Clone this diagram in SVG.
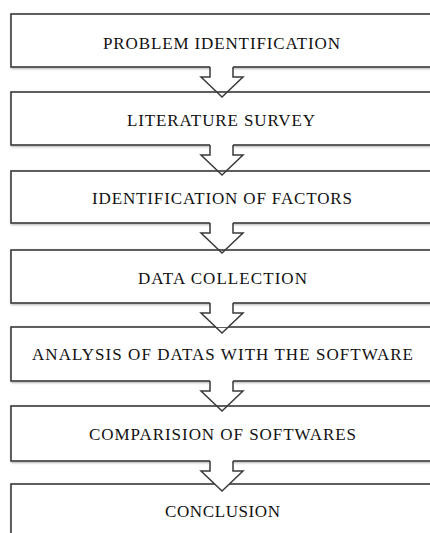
<svg xmlns="http://www.w3.org/2000/svg" width="430" height="533" viewBox="0 0 430 533">
<defs>
<filter id="sh" x="-5%" y="-20%" width="110%" height="140%">
<feDropShadow dx="0.8" dy="1" stdDeviation="0.8" flood-color="#888" flood-opacity="0.7"/>
</filter>
</defs>
<style>
.box{fill:#fff;stroke:#3a3a3a;stroke-width:1.6;filter:url(#sh)}
.lbl{font-family:"Liberation Serif","Times New Roman",serif;font-size:17px;fill:#111;text-anchor:middle}
.af{fill:#fff;stroke:none}
.ao{fill:none;stroke:#3a3a3a;stroke-width:1.5;stroke-linejoin:miter}
</style>
<rect width="430" height="533" fill="#fff"/>
<g id="n1"><rect class="box" x="11" y="14" width="440" height="53"/><text class="lbl" x="221.5" y="49" textLength="237" lengthAdjust="spacing">PROBLEM IDENTIFICATION</text></g>
<g id="n2"><rect class="box" x="11" y="92" width="440" height="53"/><text class="lbl" x="221" y="126" textLength="188" lengthAdjust="spacing">LITERATURE SURVEY</text></g>
<g id="n3"><rect class="box" x="11" y="171" width="440" height="52"/><text class="lbl" x="222" y="204" textLength="260" lengthAdjust="spacing">IDENTIFICATION OF FACTORS</text></g>
<g id="n4"><rect class="box" x="11" y="250" width="440" height="53"/><text class="lbl" x="222.5" y="283.5" textLength="169" lengthAdjust="spacing">DATA COLLECTION</text></g>
<g id="n5"><rect class="box" x="11" y="327" width="440" height="54"/><text class="lbl" x="222.5" y="360" textLength="381" lengthAdjust="spacing">ANALYSIS OF DATAS WITH THE SOFTWARE</text></g>
<g id="n6"><rect class="box" x="11" y="406" width="440" height="55"/><text class="lbl" x="222.5" y="440" textLength="267" lengthAdjust="spacing">COMPARISION OF SOFTWARES</text></g>
<g id="n7"><rect class="box" x="11" y="484" width="440" height="60"/><text class="lbl" x="222.5" y="517" textLength="115" lengthAdjust="spacing">CONCLUSION</text></g>
<g id="connectors">
<g transform="translate(0,0)"><path class="af" d="M210,65 V77 H201 L215.7,91 H228.3 L243,77 H233 V65 Z"/><path class="ao" d="M210,67 V77 H201 L222,97 L243,77 H233 V67"/></g>
<g transform="translate(0,78)"><path class="af" d="M210,65 V77 H201 L215.7,91 H228.3 L243,77 H233 V65 Z"/><path class="ao" d="M210,67 V77 H201 L222,97 L243,77 H233 V67"/></g>
<g transform="translate(0,156)"><path class="af" d="M210,65 V77 H201 L215.7,91 H228.3 L243,77 H233 V65 Z"/><path class="ao" d="M210,67 V77 H201 L222,97 L243,77 H233 V67"/></g>
<g transform="translate(0,236)"><path class="af" d="M210,65 V77 H201 L215.7,91 H228.3 L243,77 H233 V65 Z"/><path class="ao" d="M210,67 V77 H201 L222,97 L243,77 H233 V67"/></g>
<g transform="translate(0,314)"><path class="af" d="M210,65 V77 H201 L215.7,91 H228.3 L243,77 H233 V65 Z"/><path class="ao" d="M210,67 V77 H201 L222,97 L243,77 H233 V67"/></g>
<g transform="translate(0,394)"><path class="af" d="M210,65 V77 H201 L215.7,91 H228.3 L243,77 H233 V65 Z"/><path class="ao" d="M210,67 V77 H201 L222,97 L243,77 H233 V67"/></g>
</g>
</svg>
